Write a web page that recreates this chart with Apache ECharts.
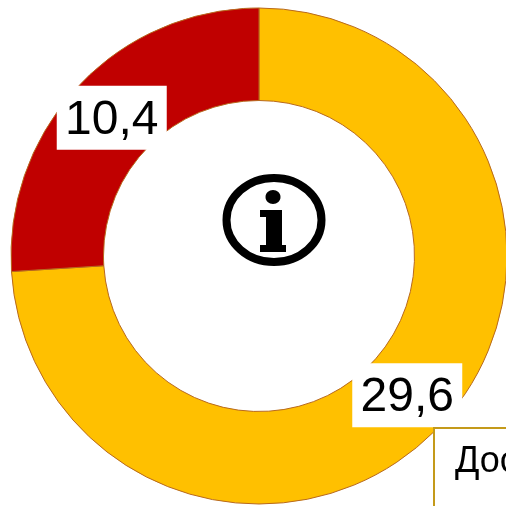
<!DOCTYPE html>
<html>
<head>
<meta charset="utf-8">
<style>html,body{margin:0;padding:0;background:#fff;overflow:hidden}#c{width:506px;height:506px}</style>
<script src="https://cdn.jsdelivr.net/npm/echarts@6/dist/echarts.min.js"></script>
</head>
<body>
<div id="c"></div>
<script>
const sliceValues = [29.6, 10.4];
const sliceColors = ['#FFC000', '#C00000'];
const calloutText = 'Дос';

const chart = echarts.init(document.getElementById('c'), null, {renderer: 'canvas'});
const labelNudges = [[-1, -1], [2, 2]];
chart.setOption({
  animation: false,
  backgroundColor: '#fff',
  series: [{
    type: 'pie',
    center: [259, 256],
    radius: [155.5, 248],
    startAngle: 90,
    clockwise: true,
    silent: true,
    itemStyle: {borderColor: '#B8691E', borderWidth: 1},
    label: {
      show: true,
      position: 'inside',
      formatter: p => '{t|' + String(p.value).replace('.', ',') + '}',
      rich: {
        t: {
          fontFamily: 'Liberation Sans',
          fontSize: 48,
          color: '#000',
          backgroundColor: '#fff',
          width: 110,
          height: 58,
          lineHeight: 58,
          padding: [6, 0, 0, 0],
          align: 'center',
          verticalAlign: 'middle'
        }
      }
    },
    labelLine: {show: false},
    data: sliceValues.map((v, i) => ({value: v, itemStyle: {color: sliceColors[i]}, label: {offset: labelNudges[i]}}))
  }],
  graphic: [
    {type: 'ellipse', z: 10, shape: {cx: 274, cy: 220, rx: 47.5, ry: 42}, style: {fill: 'transparent', stroke: '#000', lineWidth: 8}},
    {type: 'ellipse', z: 10, shape: {cx: 273, cy: 197, rx: 7.5, ry: 7}, style: {fill: '#000'}},
    {type: 'polygon', z: 10, shape: {points: [[260,210],[282,210],[282,245],[286,245],[286,252],[260,252],[260,245],[266,245],[266,217],[260,217]]}, style: {fill: '#000'}},
    {type: 'rect', z: 11, shape: {x: 434, y: 428, width: 90, height: 90}, style: {fill: '#fff', stroke: '#C49A1A', lineWidth: 2}},
    {type: 'text', z: 12, x: 455, y: 462, style: {text: calloutText, fontFamily: 'Liberation Sans', fontSize: 36, fill: '#000', verticalAlign: 'middle'}}
  ]
});
</script>
</body>
</html>
